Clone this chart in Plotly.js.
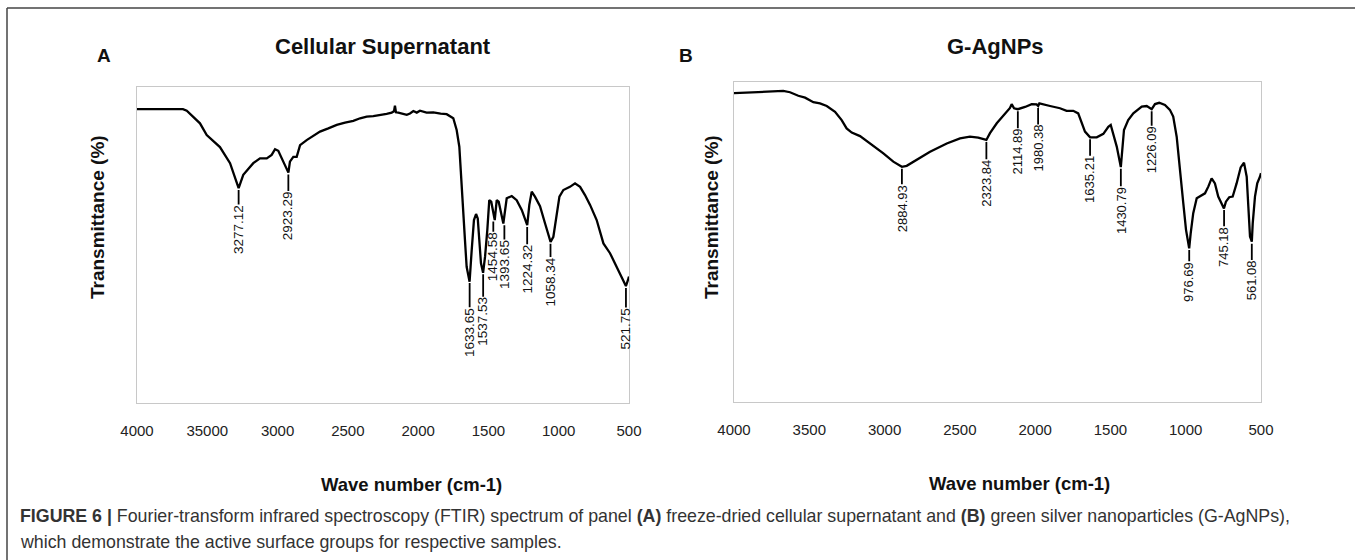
<!DOCTYPE html>
<html><head><meta charset="utf-8">
<script src="https://cdn.plot.ly/plotly-3.0.1.min.js"></script>
<style>html,body{margin:0;padding:0;background:#fff;} #chart{width:1355px;height:560px;}</style>
</head><body><div id="chart"></div>
<script>
// ---------- Panel A: Cellular Supernatant ----------
const wnA = [4000,3673,3646,3611,3552,3504,3410,3338,3303,3277,3244,3173,3125,3077,3042,3018,2995,2971,2947,2923,2912,2888,2864,2840,2793,2746,2698,2639,2579,2520,2461,2413,2366,2319,2271,2224,2188,2172,2165,2158,2141,2110,2081,2058,2034,2010,1987,1940,1892,1840,1797,1750,1726,1707,1697,1683,1667,1655,1634,1619,1603,1588,1576,1565,1553,1538,1524,1508,1494,1480,1455,1441,1427,1394,1370,1334,1299,1263,1224,1209,1192,1169,1133,1097,1058,1038,1014,995,967,920,884,848,813,777,730,682,635,587,540,522,503,500];
const tA  = [93.0,93.0,92.5,91.1,88.5,84.8,81.0,75.9,71.2,68.0,72.2,75.9,77.4,77.4,78.5,80.3,79.8,77.4,75.0,72.9,76.4,77.9,77.9,81.6,83.2,84.5,85.9,86.9,88.0,88.7,89.3,90.1,90.6,90.8,91.1,91.5,91.9,92.3,94.1,92.0,91.9,91.6,91.2,91.6,92.4,91.9,92.5,91.9,92.0,91.6,91.4,90.1,86.4,81.1,72.7,62.1,51.6,43.1,38.4,48.4,57.9,59.8,58.4,51.6,44.2,41.2,46.3,54.7,64.2,63.7,57.9,64.2,63.7,56.8,64.8,65.5,64.2,61.1,56.3,62.7,66.9,65.3,62.3,56.8,51.0,52.6,59.0,65.3,67.4,68.4,69.5,68.4,65.8,62.7,57.9,50.5,47.4,43.1,38.4,37.0,39.5,40.0];
const peaksA = [3277.12,2923.29,1633.65,1537.53,1454.58,1393.65,1224.32,1058.34,521.75];

// ---------- Panel B: G-AgNPs ----------
const wnB = [4000,3827,3673,3628,3573,3528,3473,3429,3384,3329,3285,3252,3218,3163,3097,3008,2942,2885,2853,2787,2698,2587,2499,2433,2378,2324,2300,2255,2200,2167,2156,2140,2115,2067,2023,1990,1980,1972,1901,1835,1791,1747,1714,1691,1669,1635,1591,1547,1514,1498,1481,1458,1431,1420,1410,1382,1348,1292,1259,1226,1204,1176,1138,1105,1083,1060,1038,1016,998,977,967,950,927,905,872,850,828,806,784,746,733,711,688,662,635,613,595,584,573,561,555,540,525,507,500];
const tB  = [96.5,96.8,97.2,96.8,95.7,95.1,93.7,93.3,92.5,90.7,88.1,85.5,84.2,83.1,80.8,77.7,75.1,73.5,73.8,75.6,78.2,80.8,82.4,82.9,82.6,81.9,84.0,87.1,90.2,91.9,93.1,91.8,91.5,92.2,93.1,93.0,92.5,93.3,92.5,91.8,91.0,91.0,90.2,87.1,84.5,82.7,82.7,83.8,86.0,86.6,84.0,79.8,73.4,79.8,85.0,88.1,90.2,92.3,92.5,91.5,93.1,93.5,92.8,91.3,89.2,82.9,73.5,62.1,53.8,48.0,52.7,59.0,63.7,64.2,65.2,67.3,69.9,68.3,64.2,60.5,62.6,64.0,64.2,68.3,73.3,74.8,70.4,61.0,51.7,50.1,55.8,64.2,68.3,70.4,71.5];
const peaksB = [2884.93,2323.84,2114.89,1980.38,1635.21,1430.79,1226.09,976.69,745.18,561.08];

// ---------- Axis ticks ----------
const tickVals = [4000,3500,3000,2500,2000,1500,1000,500];
const tickTextA = ['4000','35000','3000','2500','2000','1500','1000','500'];
const tickTextB = ['4000','3500','3000','2500','2000','1500','1000','500'];

// ---------- Texts ----------
const titleA = 'Cellular Supernatant';
const titleB = 'G-AgNPs';
const xTitle = 'Wave number (cm-1)';
const yTitle = 'Transmittance (%)';
const caption1 = '<b>FIGURE 6 |</b> Fourier-transform infrared spectroscopy (FTIR) spectrum of panel <b>(A)</b> freeze-dried cellular supernatant and <b>(B)</b> green silver nanoparticles (G-AgNPs),';
const caption2 = 'which demonstrate the active surface groups for respective samples.';

// style: label leader lengths and small horizontal nudges (px)
const leadA = [15,17,25,23,11,15,18,14,20];
const nudgeA = [0,0,0,0,-1.5,1,0,0,0];
const leadB = [16,18,17,17,17,18,15,12,17,17];
const nudgeB = [0,0,0,0,0,0,0,0,0,0];

function interp(ws, ts, w){
  for(let i=0;i<ws.length-1;i++){
    if(w<=ws[i] && w>=ws[i+1]){
      const f=(ws[i]-w)/(ws[i]-ws[i+1]);
      return ts[i]+f*(ts[i+1]-ts[i]);
    }
  }
  return ts[ts.length-1];
}

const FONT = 'Liberation Sans, Arial, sans-serif';
const W=1355, H=560;
const px = v => v/W, py = v => (H-v)/H;

function peakAnn(peaks, ws, ts, leads, nudges, xr, yr, fs){
  return peaks.map((p,i)=>{
    const s = p.toFixed(2);
    const len = fs*(0.556*(s.length-1)+0.278);
    return {
      x:p, y:interp(ws,ts,p), xref:xr, yref:yr, xshift:nudges[i],
      text:s, textangle:-90, showarrow:true, arrowhead:0, arrowwidth:1.8,
      arrowcolor:'#000', ax:0, ay:leads[i]+2+len/2, standoff:2, borderpad:0,
      font:{family:FONT,size:fs,color:'#111'}
    };
  });
}

const traces = [
  {x:wnA, y:tA, type:'scatter', mode:'lines', line:{color:'#000',width:2.3}, xaxis:'x', yaxis:'y', hoverinfo:'skip'},
  {x:wnB, y:tB, type:'scatter', mode:'lines', line:{color:'#000',width:2.3}, xaxis:'x2', yaxis:'y2', hoverinfo:'skip'}
];

const axX = (dom, txt) => ({domain:dom, range:[4000,500], tickvals:tickVals, ticktext:txt,
  showgrid:false, zeroline:false, showline:true, mirror:true, linecolor:'#c8c8c8', linewidth:1,
  ticks:'', ticklabelstandoff:14, tickfont:{family:FONT,size:15,color:'#222'}});
const axY = (dom) => ({domain:dom, range:[0,100], showgrid:false, zeroline:false, showline:true,
  mirror:true, linecolor:'#c8c8c8', linewidth:1, showticklabels:false, ticks:''});

const txt = (x,y,text,size,bold,extra) => Object.assign({xref:'paper',yref:'paper',x:px(x),y:py(y),
  xanchor:'center', yanchor:'middle',
  text:bold?'<b>'+text+'</b>':text, showarrow:false, font:{family:FONT,size:size,color:'#111'}}, extra||{});

const CAPF = {family:FONT,size:17.8,color:'#333'};
const annotations = [
  txt(104,56,'A',19,true),
  txt(686,56,'B',19,true),
  txt(383,46,titleA,22,true),
  txt(995,46,titleB,22,true),
  txt(411,484,xTitle,18.5,true),
  txt(1019,483,xTitle,18.5,true),
  txt(98,217,yTitle,19,true,{textangle:-90}),
  txt(712,217,yTitle,19,true,{textangle:-90}),
  txt(18,516,caption1,17.8,false,{xanchor:'left',font:CAPF}),
  txt(18,542,caption2,17.8,false,{xanchor:'left',font:CAPF})
].concat(peakAnn(peaksA,wnA,tA,leadA,nudgeA,'x','y',13.5), peakAnn(peaksB,wnB,tB,leadB,nudgeB,'x2','y2',13));

const layout = {
  width:W, height:H, margin:{l:0,r:0,t:0,b:0}, paper_bgcolor:'#fff', plot_bgcolor:'#fff',
  showlegend:false,
  xaxis: Object.assign(axX([px(137),px(629)], tickTextA), {anchor:'y'}),
  yaxis: Object.assign(axY([py(403),py(87)]), {anchor:'x'}),
  xaxis2: Object.assign(axX([px(734),px(1261)], tickTextB), {anchor:'y2'}),
  yaxis2: Object.assign(axY([py(402),py(82)]), {anchor:'x2'}),
  annotations: annotations,
  shapes:[
    {type:'line',xref:'paper',yref:'paper',x0:px(7),x1:1,y0:py(8),y1:py(8),line:{color:'#444',width:1.5}},
    {type:'line',xref:'paper',yref:'paper',x0:px(7),x1:px(7),y0:0,y1:py(8),line:{color:'#444',width:1.5}}
  ]
};

Plotly.newPlot('chart', traces, layout, {staticPlot:true, displayModeBar:false});
</script></body></html>
